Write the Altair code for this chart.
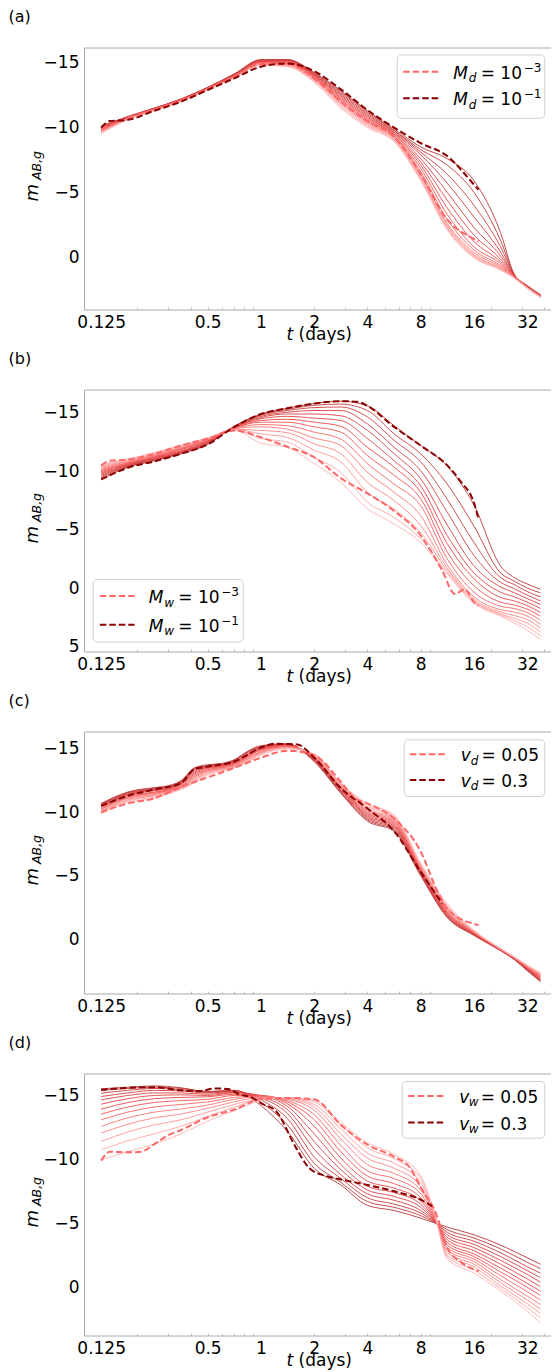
import altair as alt
import pandas as pd

FONT = "DejaVu Sans"
GRAY = "#aaaaaa"
W, H = 467, 262
XMIN, XMAX = 0.1, 43.6

X_TICKS = [0.125, 0.5, 1, 2, 4, 8, 16, 32]
X_MINOR = [0.2, 0.3, 0.4, 0.5, 0.6, 0.7, 0.8, 0.9, 2, 3, 4, 5, 6, 7, 8, 9, 20, 30, 40]

# ---------------- panel (a): M_d ----------------
A_T = [0.125, 0.177, 0.25, 0.354, 0.5, 0.707, 1, 1.41, 2, 2.83, 4, 5.66, 8, 11.3, 16, 22.6, 27, 32, 38]
# each row: one time, 14 curves from darkest to lightest
A_THIN = [
    [-10.1, -10.05, -10.0, -9.95, -9.9, -9.9, -9.85, -9.8, -9.8, -9.75, -9.7, -9.65, -9.6, -9.55],
    [-10.85, -10.85, -10.8, -10.8, -10.8, -10.75, -10.75, -10.75, -10.7, -10.7, -10.7, -10.65, -10.65, -10.6],
    [-11.5, -11.5, -11.5, -11.45, -11.45, -11.45, -11.4, -11.4, -11.4, -11.4, -11.35, -11.35, -11.35, -11.3],
    [-12.2, -12.2, -12.2, -12.15, -12.15, -12.15, -12.1, -12.1, -12.1, -12.1, -12.05, -12.05, -12.05, -12.0],
    [-13.1, -13.1, -13.1, -13.05, -13.05, -13.05, -13.0, -13.0, -13.0, -13.0, -12.95, -12.95, -12.95, -12.9],
    [-14.15, -14.1, -14.1, -14.05, -14.05, -14.0, -14.0, -13.95, -13.95, -13.9, -13.9, -13.85, -13.85, -13.8],
    [-15.25, -15.2, -15.2, -15.15, -15.1, -15.1, -15.05, -15.0, -15.0, -14.95, -14.9, -14.9, -14.85, -14.8],
    [-15.25, -15.25, -15.2, -15.2, -15.15, -15.1, -15.05, -15.0, -14.95, -14.9, -14.85, -14.8, -14.75, -14.7],
    [-14.25, -14.2, -14.15, -14.1, -14.05, -14.0, -13.95, -13.9, -13.85, -13.8, -13.7, -13.65, -13.55, -13.5],
    [-12.85, -12.75, -12.65, -12.55, -12.45, -12.35, -12.25, -12.15, -12.05, -11.95, -11.85, -11.75, -11.6, -11.5],
    [-11.3, -11.2, -11.1, -11.0, -10.9, -10.8, -10.7, -10.6, -10.5, -10.4, -10.3, -10.2, -10.1, -10.0],
    [-9.9, -9.8, -9.75, -9.65, -9.6, -9.5, -9.45, -9.35, -9.3, -9.2, -9.15, -9.05, -9.0, -8.9],
    [-8.5, -8.3, -8.1, -7.9, -7.6, -7.35, -7.1, -6.85, -6.6, -6.4, -6.25, -6.1, -6.0, -5.9],
    [-7.6, -7.1, -6.4, -5.7, -5.0, -4.4, -3.8, -3.3, -2.9, -2.6, -2.45, -2.3, -2.2, -2.1],
    [-5.9, -5.0, -4.0, -3.1, -2.3, -1.7, -1.2, -0.8, -0.55, -0.35, -0.2, -0.1, 0.0, 0.05],
    [-1.9, -1.3, -0.8, -0.4, -0.1, 0.15, 0.35, 0.5, 0.65, 0.75, 0.85, 0.9, 0.95, 1.0],
    [1.3, 1.35, 1.35, 1.4, 1.4, 1.45, 1.45, 1.5, 1.5, 1.55, 1.55, 1.6, 1.6, 1.6],
    [2.2, 2.2, 2.25, 2.25, 2.25, 2.3, 2.3, 2.3, 2.3, 2.35, 2.35, 2.35, 2.4, 2.4],
    [2.9, 2.9, 2.95, 2.95, 2.95, 3.0, 3.0, 3.0, 3.0, 3.05, 3.05, 3.05, 3.1, 3.1],
]
A_DL_T = [0.125, 0.177, 0.25, 0.354, 0.5, 0.707, 1, 1.41, 2, 2.83, 4, 5.66, 8, 11.3, 16, 17]
A_DL_M = [-9.9, -10.75, -11.4, -12.1, -13.0, -13.95, -14.9, -14.9, -13.8, -12.0, -10.5, -9.3, -6.4, -2.9, -1.4, -1.2]
A_DD_T = [0.125, 0.14, 0.177, 0.25, 0.354, 0.5, 0.707, 1, 1.41, 2, 2.83, 4, 5.66, 8, 11.3, 16, 17]
A_DD_M = [-10.0, -10.5, -10.6, -11.3, -12.0, -12.9, -13.8, -14.7, -14.95, -14.35, -12.95, -11.35, -10.0, -8.8, -7.8, -5.6, -5.2]

# ---------------- panel (b): M_w ----------------
B_T = [0.125, 0.177, 0.25, 0.354, 0.5, 0.707, 1, 1.41, 2, 2.83, 4, 5.66, 8, 11.3, 16, 22.6, 27, 32, 38]
B_THIN = [
    [-9.3, -9.45, -9.55, -9.65, -9.75, -9.85, -9.95, -10.05, -10.15, -10.25, -10.35, -10.45, -10.5, -10.6],
    [-10.35, -10.4, -10.45, -10.5, -10.55, -10.6, -10.65, -10.7, -10.75, -10.8, -10.85, -10.9, -11.0, -11.05],
    [-10.9, -10.95, -11.0, -11.05, -11.1, -11.15, -11.2, -11.25, -11.3, -11.35, -11.4, -11.45, -11.55, -11.6],
    [-11.5, -11.55, -11.6, -11.65, -11.7, -11.75, -11.85, -11.9, -11.95, -12.0, -12.05, -12.1, -12.2, -12.25],
    [-12.3, -12.35, -12.4, -12.45, -12.5, -12.55, -12.6, -12.65, -12.7, -12.75, -12.75, -12.8, -12.85, -12.85],
    [-13.85, -13.85, -13.8, -13.8, -13.75, -13.75, -13.7, -13.7, -13.65, -13.65, -13.6, -13.6, -13.55, -13.5],
    [-14.9, -14.85, -14.8, -14.7, -14.6, -14.5, -14.35, -14.2, -14.0, -13.8, -13.5, -13.2, -12.8, -12.4],
    [-15.4, -15.3, -15.2, -15.05, -14.9, -14.7, -14.45, -14.2, -13.9, -13.6, -13.3, -12.9, -12.5, -12.05],
    [-15.8, -15.65, -15.45, -15.2, -14.9, -14.55, -14.2, -13.8, -13.35, -12.85, -12.35, -11.8, -11.2, -10.65],
    [-16.0, -15.75, -15.5, -15.2, -14.75, -14.35, -13.85, -13.35, -12.75, -12.2, -11.5, -10.8, -9.9, -9.05],
    [-15.6, -15.2, -14.65, -14.05, -13.5, -12.8, -12.05, -11.35, -10.65, -9.9, -9.05, -8.2, -7.35, -6.8],
    [-13.9, -13.2, -12.65, -12.05, -11.5, -10.9, -10.35, -9.65, -8.9, -8.2, -7.5, -6.75, -6.05, -5.5],
    [-12.2, -11.5, -10.8, -10.05, -9.35, -8.75, -8.2, -7.65, -7.05, -6.2, -5.35, -4.75, -4.2, -3.9],
    [-10.45, -8.9, -7.6, -6.5, -5.4, -4.5, -3.8, -3.1, -2.5, -2.0, -1.7, -1.5, -1.3, -1.2],
    [-7.1, -5.3, -3.9, -2.8, -1.9, -1.3, -0.8, -0.2, 0.35, 0.75, 0.95, 1.1, 1.2, 1.3],
    [-1.9, -1.3, -0.9, -0.5, -0.1, 0.35, 0.8, 1.2, 1.55, 1.85, 2.05, 2.2, 2.3, 2.4],
    [-0.9, -0.6, -0.3, 0.05, 0.4, 0.75, 1.1, 1.45, 1.75, 2.05, 2.35, 2.6, 2.8, 3.0],
    [-0.35, 0.0, 0.3, 0.6, 0.9, 1.2, 1.5, 1.8, 2.1, 2.4, 2.7, 3.0, 3.3, 3.6],
    [0.1, 0.4, 0.75, 1.1, 1.4, 1.75, 2.1, 2.4, 2.75, 3.1, 3.4, 3.75, 4.1, 4.4],
]
B_DL_T = [0.125, 0.14, 0.177, 0.25, 0.354, 0.5, 0.707, 1, 1.41, 2, 2.83, 4, 5.66, 8, 10.5, 12.5, 14.2, 16, 17]
B_DL_M = [-10.5, -10.9, -11.0, -11.5, -12.2, -12.8, -13.5, -12.9, -12.1, -11.2, -9.4, -8.1, -6.6, -4.5, -1.6, 0.5, 0.1, 1.2, 1.5]
B_DD_T = [0.125, 0.177, 0.25, 0.354, 0.5, 0.707, 1, 1.41, 2, 2.83, 3.5, 4, 5.66, 8, 11.3, 13.5, 16, 17]
B_DD_M = [-9.3, -10.3, -10.85, -11.5, -12.3, -13.8, -14.9, -15.4, -15.8, -16.0, -15.95, -15.6, -13.8, -12.2, -10.5, -9.1, -7.3, -5.9]

# ---------------- panel (c): v_d ----------------
C_T = [0.125, 0.177, 0.25, 0.3, 0.354, 0.42, 0.5, 0.6, 0.707, 0.85, 1, 1.41, 2, 2.83, 4, 5.66, 8, 11.3, 16, 22.6, 27, 32, 38]
C_THIN = [
    [-10.7, -10.65, -10.6, -10.55, -10.5, -10.45, -10.4, -10.3, -10.25, -10.2, -10.1, -10.05, -10.0, -9.9],
    [-11.6, -11.55, -11.5, -11.45, -11.4, -11.35, -11.3, -11.2, -11.15, -11.1, -11.0, -10.95, -10.9, -10.8],
    [-11.95, -11.9, -11.85, -11.8, -11.75, -11.7, -11.6, -11.55, -11.5, -11.4, -11.35, -11.3, -11.2, -11.1],
    [-12.1, -12.05, -12.0, -11.95, -11.9, -11.85, -11.8, -11.75, -11.7, -11.65, -11.6, -11.55, -11.5, -11.45],
    [-12.5, -12.45, -12.4, -12.35, -12.3, -12.25, -12.2, -12.1, -12.05, -12.0, -11.95, -11.9, -11.85, -11.8],
    [-13.5, -13.45, -13.4, -13.3, -13.2, -13.1, -13.0, -12.9, -12.8, -12.7, -12.6, -12.5, -12.4, -12.3],
    [-13.75, -13.7, -13.65, -13.6, -13.55, -13.5, -13.45, -13.35, -13.3, -13.25, -13.15, -13.1, -13.0, -12.95],
    [-13.85, -13.8, -13.8, -13.75, -13.7, -13.65, -13.6, -13.55, -13.5, -13.45, -13.4, -13.35, -13.3, -13.25],
    [-14.15, -14.1, -14.05, -14.0, -13.95, -13.9, -13.85, -13.8, -13.75, -13.7, -13.65, -13.6, -13.55, -13.5],
    [-14.85, -14.8, -14.75, -14.65, -14.6, -14.5, -14.45, -14.4, -14.3, -14.25, -14.2, -14.1, -14.05, -14.0],
    [-15.25, -15.2, -15.15, -15.1, -15.05, -15.0, -14.95, -14.9, -14.8, -14.75, -14.7, -14.65, -14.6, -14.5],
    [-15.4, -15.4, -15.35, -15.35, -15.3, -15.3, -15.25, -15.2, -15.2, -15.15, -15.1, -15.1, -15.05, -15.0],
    [-14.0, -14.05, -14.1, -14.15, -14.2, -14.25, -14.3, -14.35, -14.4, -14.45, -14.5, -14.5, -14.55, -14.6],
    [-11.5, -11.55, -11.6, -11.7, -11.75, -11.8, -11.9, -11.95, -12.0, -12.1, -12.15, -12.2, -12.25, -12.3],
    [-9.3, -9.4, -9.5, -9.6, -9.7, -9.8, -9.9, -10.0, -10.1, -10.2, -10.3, -10.45, -10.55, -10.7],
    [-8.5, -8.6, -8.7, -8.8, -8.9, -9.0, -9.1, -9.2, -9.3, -9.4, -9.5, -9.6, -9.7, -9.8],
    [-5.0, -5.05, -5.15, -5.2, -5.3, -5.35, -5.45, -5.5, -5.6, -5.65, -5.75, -5.8, -5.9, -6.0],
    [-1.7, -1.75, -1.8, -1.9, -1.95, -2.0, -2.1, -2.15, -2.25, -2.35, -2.45, -2.55, -2.65, -2.8],
    [-0.3, -0.3, -0.35, -0.35, -0.4, -0.4, -0.45, -0.5, -0.5, -0.55, -0.6, -0.6, -0.65, -0.7],
    [0.9, 0.9, 0.9, 0.85, 0.85, 0.85, 0.85, 0.8, 0.8, 0.8, 0.8, 0.75, 0.75, 0.75],
    [1.6, 1.6, 1.55, 1.55, 1.55, 1.5, 1.5, 1.5, 1.5, 1.45, 1.45, 1.45, 1.4, 1.4],
    [2.5, 2.45, 2.4, 2.4, 2.35, 2.3, 2.3, 2.25, 2.2, 2.2, 2.15, 2.1, 2.1, 2.05],
    [3.35, 3.3, 3.25, 3.2, 3.15, 3.1, 3.0, 2.95, 2.9, 2.85, 2.8, 2.75, 2.7, 2.65],
]
C_DL_T = [0.125, 0.177, 0.25, 0.354, 0.5, 0.707, 1, 1.41, 2, 2.83, 3.4, 4, 5.66, 8, 10, 11.3, 16, 17]
C_DL_M = [-10.0, -10.7, -11.1, -12.0, -12.75, -13.5, -14.3, -14.85, -14.5, -12.4, -11.1, -10.7, -9.5, -6.9, -3.7, -2.4, -1.2, -1.1]
C_DD_T = [0.125, 0.177, 0.25, 0.354, 0.42, 0.5, 0.707, 1, 1.2, 1.6, 2, 2.83, 4, 5.66, 8, 10.6]
C_DD_M = [-10.5, -11.3, -11.8, -12.3, -13.4, -13.6, -14.0, -15.1, -15.4, -15.35, -14.3, -11.9, -10.3, -8.5, -5.3, -2.8]

# ---------------- panel (d): v_w ----------------
D_T = [0.125, 0.177, 0.25, 0.354, 0.5, 0.707, 1, 1.41, 2, 2.83, 4, 5.66, 8, 9.5, 11.3, 16, 22.6, 32, 38]
D_THIN = [
    [-15.52, -15.39, -15.18, -14.92, -14.66, -14.32, -13.93, -13.54, -13.1, -12.58, -12.06, -11.41, -10.76, -9.98],
    [-15.65, -15.55, -15.4, -15.2, -15.0, -14.75, -14.45, -14.1, -13.7, -13.25, -12.75, -12.15, -11.45, -10.6],
    [-15.75, -15.65, -15.55, -15.4, -15.2, -15.0, -14.75, -14.45, -14.1, -13.7, -13.25, -12.7, -12.0, -11.2],
    [-15.6, -15.55, -15.45, -15.35, -15.2, -15.05, -14.85, -14.6, -14.3, -13.95, -13.55, -13.1, -12.6, -12.0],
    [-15.3, -15.3, -15.25, -15.2, -15.1, -15.0, -14.9, -14.7, -14.5, -14.25, -14.0, -13.7, -13.35, -13.0],
    [-15.4, -15.4, -15.35, -15.3, -15.25, -15.2, -15.1, -15.0, -14.85, -14.7, -14.5, -14.3, -14.1, -13.8],
    [-14.2, -14.45, -14.65, -14.8, -14.9, -15.0, -15.0, -15.0, -14.95, -14.9, -14.85, -14.75, -14.7, -14.6],
    [-12.2, -12.7, -13.2, -13.6, -13.9, -14.15, -14.35, -14.5, -14.6, -14.7, -14.75, -14.8, -14.8, -14.8],
    [-9.3, -9.7, -10.2, -10.8, -11.4, -12.0, -12.6, -13.1, -13.5, -13.85, -14.1, -14.3, -14.5, -14.6],
    [-8.0, -8.2, -8.5, -8.8, -9.2, -9.6, -10.1, -10.6, -11.1, -11.6, -12.0, -12.4, -12.7, -12.9],
    [-6.4, -6.7, -7.0, -7.3, -7.6, -7.9, -8.3, -8.7, -9.1, -9.6, -10.1, -10.5, -10.9, -11.3],
    [-6.0, -6.25, -6.5, -6.8, -7.1, -7.4, -7.75, -8.1, -8.5, -8.9, -9.3, -9.7, -10.05, -10.4],
    [-5.4, -5.6, -5.8, -6.0, -6.25, -6.5, -6.75, -7.0, -7.3, -7.6, -7.9, -8.2, -8.5, -8.7],
    [-5.05, -5.1, -5.15, -5.2, -5.25, -5.3, -5.4, -5.5, -5.6, -5.7, -5.8, -5.85, -5.95, -6.0],
    [-4.7, -4.5, -4.3, -4.1, -3.9, -3.7, -3.5, -3.3, -3.1, -2.9, -2.7, -2.5, -2.35, -2.2],
    [-4.1, -3.85, -3.6, -3.35, -3.1, -2.85, -2.6, -2.4, -2.2, -2.0, -1.8, -1.6, -1.35, -1.1],
    [-3.3, -3.0, -2.7, -2.4, -2.1, -1.8, -1.5, -1.2, -0.9, -0.6, -0.35, -0.1, 0.1, 0.3],
    [-2.3, -1.95, -1.6, -1.3, -1.0, -0.65, -0.3, 0.0, 0.35, 0.7, 1.0, 1.3, 1.6, 1.9],
    [-1.8, -1.45, -1.1, -0.75, -0.4, -0.05, 0.3, 0.65, 1.0, 1.35, 1.7, 2.05, 2.4, 2.8],
]
D_DL_T = [0.125, 0.14, 0.177, 0.21, 0.25, 0.3, 0.354, 0.5, 0.707, 1, 1.41, 2, 2.83, 4, 5.66, 7, 8, 9.8, 11.3, 13.4, 17]
D_DL_M = [-9.9, -10.6, -10.55, -10.6, -11.2, -11.9, -12.3, -13.3, -13.9, -14.7, -14.8, -14.7, -12.7, -11.15, -10.2, -9.3, -7.8, -5.7, -3.1, -2.0, -1.25]
D_DD_T = [0.125, 0.177, 0.25, 0.354, 0.45, 0.55, 0.65, 0.75, 0.9, 1, 1.22, 1.58, 1.88, 2.34, 2.9, 4, 5.66, 8, 9.3]
D_DD_M = [-15.45, -15.6, -15.65, -15.4, -15.35, -15.55, -15.5, -15.1, -14.8, -14.4, -13.75, -10.9, -9.3, -8.7, -8.4, -8.0, -7.5, -6.85, -6.35]

# y-axis ranges and ticks per panel
A_YDOM, A_YTICKS = [-16.18, 4.04], [-15, -10, -5, 0]
B_YDOM, B_YTICKS = [-17.0, 5.43], [-15, -10, -5, 0, 5]
C_YDOM, C_YTICKS = [-16.37, 4.29], [-15, -10, -5, 0]
D_YDOM, D_YTICKS = [-16.72, 3.78], [-15, -10, -5, 0]

# legend texts
LAB_MD = [[("M", 0, 0, 17, "italic"), ("d", 15.5, 3.5, 12, "italic"), ("= 10", 27.5, 0, 17, "normal"), ("\u22123", 70.5, -7, 12, "normal")],
          [("M", 0, 0, 17, "italic"), ("d", 15.5, 3.5, 12, "italic"), ("= 10", 27.5, 0, 17, "normal"), ("\u22121", 70.5, -7, 12, "normal")]]
LAB_MW = [[("M", 0, 0, 17, "italic"), ("w", 15.5, 3.5, 12, "italic"), ("= 10", 29.5, 0, 17, "normal"), ("\u22123", 72.5, -7, 12, "normal")],
          [("M", 0, 0, 17, "italic"), ("w", 15.5, 3.5, 12, "italic"), ("= 10", 29.5, 0, 17, "normal"), ("\u22121", 72.5, -7, 12, "normal")]]
LAB_VD = [[("v", 0, 0, 17, "italic"), ("d", 10, 3.5, 12, "italic"), ("= 0.05", 20.7, 0, 17, "normal")],
          [("v", 0, 0, 17, "italic"), ("d", 10, 3.5, 12, "italic"), ("= 0.3", 20.7, 0, 17, "normal")]]
LAB_VW = [[("v", 0, 0, 17, "italic"), ("w", 9.5, 3.5, 12, "italic"), ("= 0.05", 21.5, 0, 17, "normal")],
          [("v", 0, 0, 17, "italic"), ("w", 9.5, 3.5, 12, "italic"), ("= 0.3", 21.5, 0, 17, "normal")]]

LIGHT = "#ff6666"
DARK = "#8b0000"
DASH = [6.5, 3]

ONE = pd.DataFrame({"_": [0]})


def txt(text, x, y, size, style="normal", align="left", baseline="alphabetic", angle=0):
    return alt.Chart(ONE).mark_text(
        text=text, font=FONT, fontSize=size, fontStyle=style, align=align,
        baseline=baseline, angle=angle, color="black"
    ).encode(x=alt.value(x), y=alt.value(y))


def legend(bx, by, bw, bh, d0, d1, tx, rows, labels):
    layers = [alt.Chart(ONE).mark_rect(
        cornerRadius=4, fill="white", fillOpacity=0.8, stroke="#d0d0d0", strokeWidth=1
    ).encode(x=alt.value(bx), x2=alt.value(bx + bw), y=alt.value(by), y2=alt.value(by + bh))]
    for ry, col, pieces in zip(rows, [LIGHT, DARK], labels):
        yy = by + ry
        layers.append(alt.Chart(ONE).mark_rule(color=col, strokeWidth=2, strokeDash=DASH).encode(
            x=alt.value(bx + d0), x2=alt.value(bx + d1), y=alt.value(yy)))
        for t, dx, dy, size, style in pieces:
            layers.append(txt(t, bx + tx + dx, yy + 7 + dy, size, style))
    return layers


def panel(letter, T, rows, dl_t, dl_m, dd_t, dd_m, ydom, yticks, leg):
    recs = []
    for t, row in zip(T, rows):
        n = len(row)
        for j, m in enumerate(row):
            recs.append({"t": t, "m": m, "k": n - 1 - j})
    thin = pd.DataFrame(recs)
    dl = pd.DataFrame({"t": dl_t, "m": dl_m})
    dd = pd.DataFrame({"t": dd_t, "m": dd_m})

    xs = alt.Scale(type="log", base=2, domain=[XMIN, XMAX], nice=False)
    ys = alt.Scale(domain=ydom, reverse=True, nice=False, zero=False)
    yax = alt.Axis(values=yticks, title=None, grid=False, ticks=False, tickSize=0,
                   labelPadding=5, domainColor=GRAY, labelFontSize=17)

    x_main = alt.Axis(values=X_TICKS, format="~g", title=None, grid=False, ticks=False, tickSize=0,
                      labelPadding=5, domainColor=GRAY, labelFontSize=17, labelFlush=False,
                      labelOverlap=False)
    x_top = alt.Axis(orient="top", labels=False, ticks=False, title=None, grid=False, domainColor=GRAY)
    x_minor = alt.Axis(orient="bottom", values=X_MINOR, labels=False, domain=False, ticks=True,
                       tickSize=2.5, offset=-2.5, tickColor="#b0b0b0", tickWidth=0.8,
                       title=None, grid=False)

    thin_layer = alt.Chart(thin).mark_line(strokeWidth=0.9, interpolate="monotone").encode(
        x=alt.X("t:Q", scale=xs, axis=x_main),
        y=alt.Y("m:Q", scale=ys, axis=yax),
        color=alt.Color("k:Q", scale=alt.Scale(domain=[0, 6.5, 13],
                                               range=["#ffb4b4", "#f04848", "#b83838"]), legend=None),
        detail="k:N",
    )
    light_layer = alt.Chart(dl).mark_line(color=LIGHT, strokeWidth=2, strokeDash=DASH,
                                          interpolate="monotone").encode(
        x=alt.X("t:Q", scale=xs, axis=x_top),
        y=alt.Y("m:Q", scale=ys, axis=yax),
    )
    dark_layer = alt.Chart(dd).mark_line(color=DARK, strokeWidth=2, strokeDash=DASH,
                                         interpolate="monotone").encode(
        x=alt.X("t:Q", scale=xs, axis=x_minor),
        y=alt.Y("m:Q", scale=ys, axis=yax),
    )

    layers = [thin_layer, light_layer, dark_layer]
    layers += legend(**leg)
    layers.append(txt("(" + letter + ")", -75.5, -31, 16, baseline="middle"))
    layers.append(txt("m", -46.2, H / 2 + 23, 18, "italic", angle=270))
    layers.append(txt("AB,g", -43.5, H / 2 + 1.5, 12.5, "italic", angle=270))
    layers.append(txt("t", 202.5, H + 30.7, 17, "italic"))
    layers.append(txt("(days)", 214.6, H + 30.7, 17))
    return alt.layer(*layers).resolve_axis(x="independent").properties(width=W, height=H)


pa = panel("a", A_T, A_THIN, A_DL_T, A_DL_M, A_DD_T, A_DD_M, A_YDOM, A_YTICKS,
           dict(bx=313.2, by=7.5, bw=147.6, bh=63.3, d0=6, d1=41, tx=56, rows=[16.7, 43.3], labels=LAB_MD))
pb = panel("b", B_T, B_THIN, B_DL_T, B_DL_M, B_DD_T, B_DD_M, B_YDOM, B_YTICKS,
           dict(bx=9.2, by=190, bw=150, bh=62.6, d0=6.6, d1=41.3, tx=55.6, rows=[16.6, 45.3], labels=LAB_MW))
pc = panel("c", C_T, C_THIN, C_DL_T, C_DL_M, C_DD_T, C_DD_M, C_YDOM, C_YTICKS,
           dict(bx=320.2, by=8.4, bw=140.6, bh=56.6, d0=5.6, d1=41.6, tx=56.6, rows=[14.3, 40.0], labels=LAB_VD))
pd_ = panel("d", D_T, D_THIN, D_DL_T, D_DL_M, D_DD_T, D_DD_M, D_YDOM, D_YTICKS,
            dict(bx=318.2, by=8.0, bw=142.6, bh=56.7, d0=6, d1=41, tx=57, rows=[14.4, 41.0], labels=LAB_VW))

chart = alt.vconcat(pa, pb, pc, pd_, spacing=7).properties(
    padding={"left": 8, "top": 8.5, "right": 0, "bottom": 0},
    background="white",
).configure_view(stroke=None).configure_axis(
    labelFont=FONT, labelColor="black", labelFontSize=17
)

chart.save("out.html", embed_options={"renderer": "svg", "actions": False})
